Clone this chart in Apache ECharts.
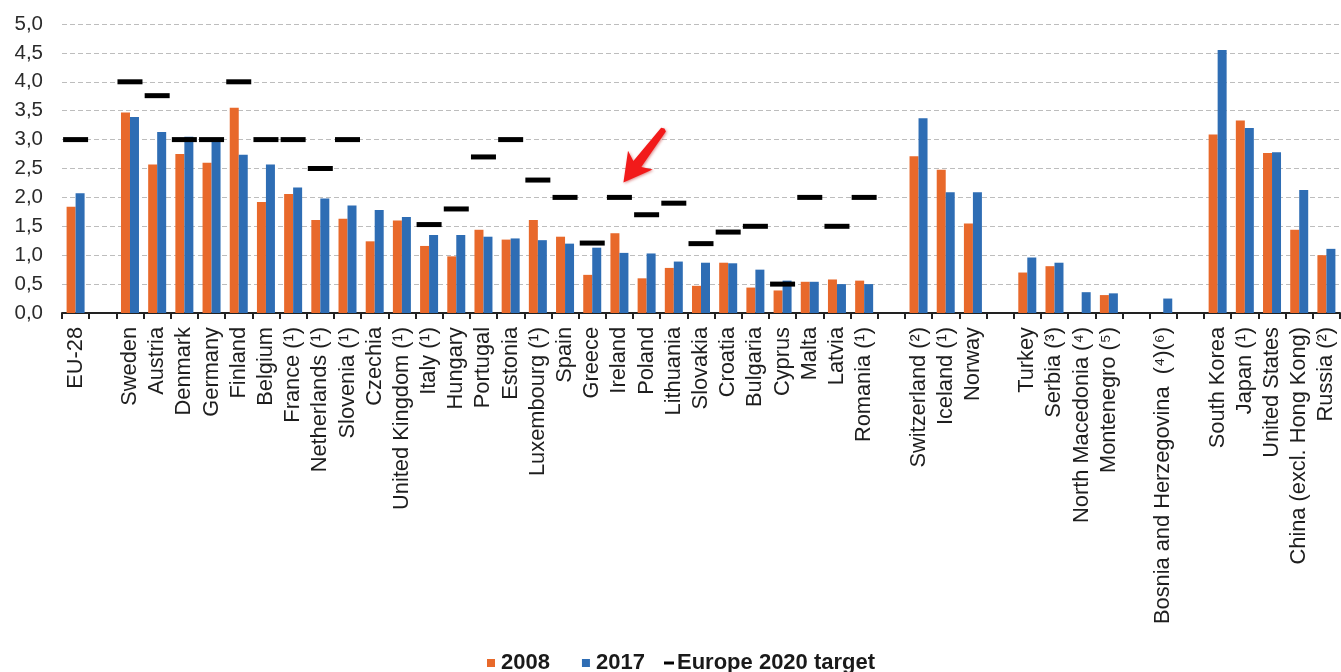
<!DOCTYPE html>
<html>
<head>
<meta charset="utf-8">
<title>R&amp;D expenditure</title>
<script src="https://cdn.jsdelivr.net/npm/echarts@6/dist/echarts.min.js"></script>
<style>
  html, body { margin: 0; padding: 0; background: #ffffff; }
  #chart { width: 1341px; height: 672px; }
</style>
</head>
<body>
<div id="chart"></div>
<script>
// Gross domestic expenditure on R&D, % of GDP ('' = spacer columns between groups)
const categories = [
  'EU-28', '',
  'Sweden', 'Austria', 'Denmark', 'Germany', 'Finland', 'Belgium', 'France (¹)',
  'Netherlands (¹)', 'Slovenia (¹)', 'Czechia', 'United Kingdom (¹)', 'Italy (¹)',
  'Hungary', 'Portugal', 'Estonia', 'Luxembourg (¹)', 'Spain', 'Greece', 'Ireland',
  'Poland', 'Lithuania', 'Slovakia', 'Croatia', 'Bulgaria', 'Cyprus', 'Malta',
  'Latvia', 'Romania (¹)', ' ',
  'Switzerland (²)', 'Iceland (¹)', 'Norway', '  ',
  'Turkey', 'Serbia (³)', 'North Macedonia (⁴)', 'Montenegro (⁵)', '   ',
  'Bosnia and Herzegovina  (⁴)(⁶)', '    ',
  'South Korea', 'Japan (¹)', 'United States', 'China (excl. Hong Kong)', 'Russia (²)'
];

const values2008 = [
  1.84, null,
  3.47, 2.57, 2.75, 2.60, 3.55, 1.92, 2.06,
  1.61, 1.63, 1.24, 1.60, 1.16,
  0.98, 1.44, 1.27, 1.61, 1.32, 0.66, 1.38,
  0.60, 0.78, 0.47, 0.87, 0.44, 0.39, 0.54,
  0.58, 0.56, null,
  2.71, 2.48, 1.55, null,
  0.70, 0.81, null, 0.31, null,
  null, null,
  3.09, 3.33, 2.77, 1.44, 1.00
];

const values2017 = [
  2.07, null,
  3.39, 3.13, 3.05, 3.02, 2.74, 2.57, 2.17,
  1.98, 1.86, 1.78, 1.66, 1.35,
  1.35, 1.32, 1.29, 1.26, 1.20, 1.13, 1.04,
  1.03, 0.89, 0.87, 0.86, 0.75, 0.56, 0.54,
  0.50, 0.50, null,
  3.37, 2.09, 2.09, null,
  0.96, 0.87, 0.36, 0.34, null,
  0.25, null,
  4.55, 3.20, 2.78, 2.13, 1.11
];

const targets2020 = [
  3.00, null,
  4.00, 3.76, 3.00, 3.00, 4.00, 3.00, 3.00,
  2.50, 3.00, null, null, 1.53,
  1.80, 2.70, 3.00, 2.30, 2.00, 1.21, 2.00,
  1.70, 1.90, 1.20, 1.40, 1.50, 0.50, 2.00,
  1.50, 2.00, null,
  null, null, null, null,
  null, null, null, null, null,
  null, null,
  null, null, null, null, null
];

const seriesNames = ['2008', '2017', 'Europe 2020 target'];
const yTicks = { min: 0, max: 5, step: 0.5 };
const highlighted = 'Ireland';

const FONT = '"Liberation Sans", Arial, sans-serif';
const ORANGE = '#E8692B';
const BLUE = '#2E6DB4';

const chart = echarts.init(document.getElementById('chart'), null, { renderer: 'canvas' });

chart.setOption({
  animation: false,
  backgroundColor: '#ffffff',
  textStyle: { fontFamily: FONT },
  grid: { left: 62, right: 1, top: 24, bottom: 359, containLabel: false },
  legend: [
    {
      data: [seriesNames[0], seriesNames[1]],
      left: 482, top: 647,
      icon: 'rect', itemWidth: 8, itemHeight: 8, itemGap: 32,
      textStyle: { fontFamily: FONT, fontSize: 22, fontWeight: 'bold', color: '#1a1a1a', padding: [0, 0, 0, 1] }
    },
    {
      data: [seriesNames[2]],
      left: 659, top: 647,
      icon: 'rect', itemWidth: 10, itemHeight: 3, itemGap: 5,
      textStyle: { fontFamily: FONT, fontSize: 22, fontWeight: 'bold', color: '#1a1a1a', padding: [0, 0, 0, -2] }
    }
  ],
  xAxis: {
    type: 'category',
    data: categories,
    boundaryGap: true,
    axisLine: { show: true, lineStyle: { color: '#222', width: 2 } },
    axisTick: { show: true, interval: 0, length: 6, lineStyle: { color: '#222', width: 2 } },
    axisLabel: {
      interval: 0, rotate: 90, margin: 14,
      fontFamily: FONT, fontSize: 21.8, color: '#1e1e1e'
    },
    splitLine: { show: false }
  },
  yAxis: {
    type: 'value',
    min: yTicks.min, max: yTicks.max, interval: yTicks.step,
    axisLine: { show: false },
    axisTick: { show: false },
    axisLabel: {
      margin: 19, fontFamily: FONT, fontSize: 20.5, color: '#2a2a2a',
      formatter: v => v.toFixed(1).replace('.', ',')
    },
    splitLine: { show: true, lineStyle: { color: '#bdbdbd', type: [5, 3], width: 1 } }
  },
  series: [
    {
      name: seriesNames[0], type: 'bar', data: values2008,
      barWidth: 9, barGap: '0%',
      itemStyle: { color: ORANGE }
    },
    {
      name: seriesNames[1], type: 'bar', data: values2017,
      barWidth: 9, barGap: '0%',
      itemStyle: { color: BLUE }
    },
    {
      name: seriesNames[2], type: 'scatter', data: targets2020,
      symbol: 'rect', symbolSize: [25, 5], z: 5,
      itemStyle: { color: '#000000', opacity: 1 }
    }
  ]
});

// Red arrow pointing at the highlighted country's target marker
function drawArrow() {
  const idx = categories.indexOf(highlighted);
  const p = chart.convertToPixel({ xAxisIndex: 0, yAxisIndex: 0 }, [idx, targets2020[idx]]);
  const tip = [p[0] + 4, p[1] - 15];
  const dx = 41, dy = -54;
  const len = Math.sqrt(dx * dx + dy * dy);
  const u = [dx / len, dy / len];   // along the arrow, tip -> tail
  const n = [-u[1], u[0]];          // normal
  const pt = (a, b) => [tip[0] + a * u[0] + b * n[0], tip[1] + a * u[1] + b * n[1]];
  const shape = [
    pt(0, 0), pt(28, 15.5), pt(23, 5), pt(len - 1.5, 3), pt(len, 0),
    pt(len - 1.5, -3), pt(23, -5), pt(28, -15.5)
  ];
  chart.setOption({
    graphic: [{
      type: 'polygon', z: 100,
      shape: { points: shape },
      style: { fill: '#F21A1A', shadowBlur: 3, shadowColor: 'rgba(180,0,0,0.45)', shadowOffsetX: 1, shadowOffsetY: 1 }
    }]
  });
}
drawArrow();
</script>
</body>
</html>
